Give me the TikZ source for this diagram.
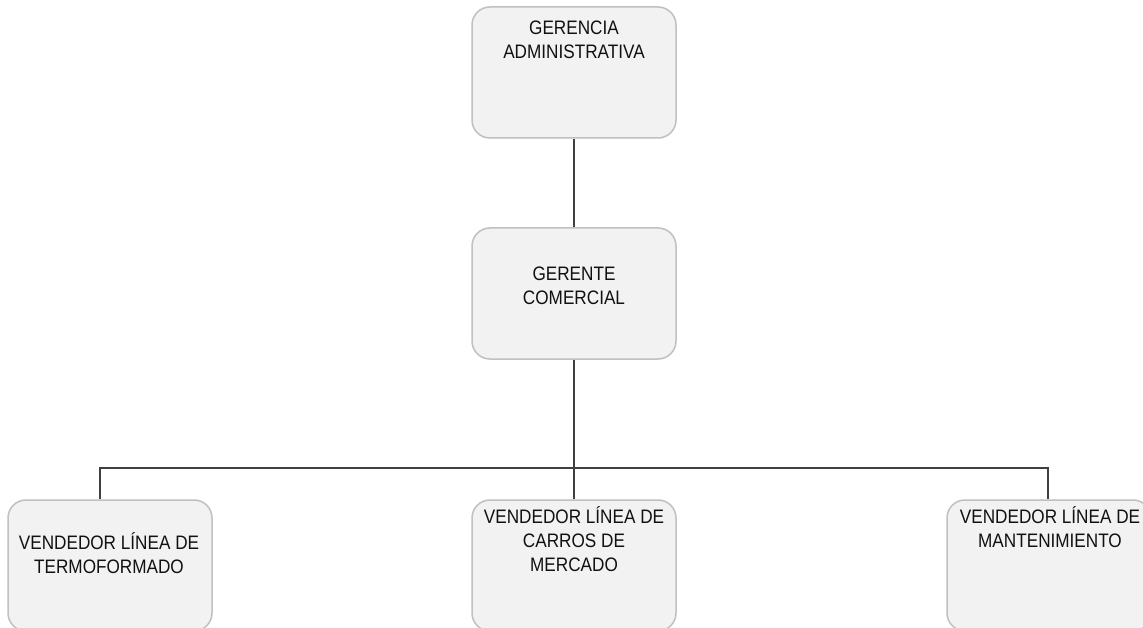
\documentclass[tikz,border=0pt]{standalone}
\usepackage{fontspec}
\setmainfont{Liberation Sans}[FakeStretch=0.88]
\usetikzlibrary{calc}
\definecolor{boxfill}{HTML}{F2F2F2}
\definecolor{boxline}{HTML}{C0C0C0}
\definecolor{connline}{HTML}{404040}
\definecolor{txt}{HTML}{111111}
\tikzset{
  orgbox/.style={draw=boxline, fill=boxfill, line width=1.5pt, rounded corners=18pt,
    minimum width=204pt, minimum height=131pt, inner sep=0pt},
  orglbl/.style={anchor=north, inner sep=0pt, align=center, text=txt,
    font=\fontsize{19.5}{24}\selectfont},
  conn/.style={draw=connline, line width=2.8pt}
}
\begin{document}
\begin{tikzpicture}[x=1pt,y=-1pt]
\useasboundingbox (0,0) rectangle (1143,628);
\fill[white] (0,0) rectangle (1143,628);
% boxes
\node[orgbox] (g1) at (574,72.5) {};
\node[orgbox] (g2) at (574,293.5) {};
\node[orgbox] (b1) at (110,565.5) {};
\node[orgbox] (b2) at (574,565.5) {};
\node[orgbox] (b3) at (1049,565.5) {};
% bus coordinates
\coordinate (bl) at (100,468);
\coordinate (br) at (1048,468);
% connectors
\draw[conn] (g1.south) -- (g2.north);
\draw[conn] (g2.south) -- (b2.north);
\draw[conn] (bl |- b1.north) -- (bl) -- (br) -- (br |- b3.north);
% labels
\node[orglbl] (t1) at (574,20.5) {GERENCIA\\ADMINISTRATIVA};
\node[orglbl] (t2) at (574,266.5) {GERENTE\\COMERCIAL};
\node[orglbl] (t3) at (109,532.5) {VENDEDOR LÍNEA DE\\TERMOFORMADO};
\node[orglbl] (t4) at (574,506.5) {VENDEDOR LÍNEA DE\\CARROS DE\\MERCADO};
\node[orglbl] (t5) at (1050,506.5) {VENDEDOR LÍNEA DE\\MANTENIMIENTO};
\end{tikzpicture}
\end{document}
